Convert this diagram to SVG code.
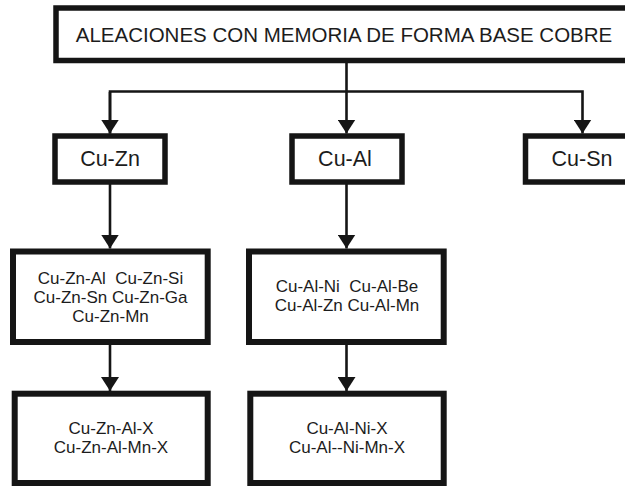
<svg xmlns="http://www.w3.org/2000/svg" width="625" height="486" viewBox="0 0 625 486">
<style>
.box{fill:#fff;stroke:#151515;}
.t{font-family:"Liberation Sans",Arial,sans-serif;fill:#1c1c1c;text-anchor:middle;}
.big{font-size:21.5px;}
.top{font-size:20.5px;}
.sm{font-size:17px;}
.c{fill:none;stroke:#151515;stroke-width:2.6;}
</style>
<defs>
<marker id="ah" viewBox="0 0 14 18" refX="14" refY="9" markerWidth="14" markerHeight="18" markerUnits="userSpaceOnUse" orient="auto">
<path d="M0,0 L14,9 L0,18 Z" fill="#151515"/>
</marker>
</defs>
<rect width="625" height="486" fill="#fff"/>
<g id="connectors">
<path class="c" d="M346.5,62 V133.5" marker-end="url(#ah)"/>
<path class="c" d="M110,133.5 V91.5 H582.5 V133.5" marker-end="url(#ah)"/>
<path class="c" d="M110,92 V133.5" marker-end="url(#ah)"/>
<path class="c" d="M110,183 V248.5" marker-end="url(#ah)"/>
<path class="c" d="M346.5,183 V248.5" marker-end="url(#ah)"/>
<path class="c" d="M110,344 V391" marker-end="url(#ah)"/>
<path class="c" d="M346.5,344 V391" marker-end="url(#ah)"/>
</g>
<g id="root">
<rect class="box" x="56" y="8" width="600" height="52.5" stroke-width="5.5"/>
<text class="t top" x="344" y="41.5">ALEACIONES CON MEMORIA DE FORMA BASE COBRE</text>
</g>
<g id="cuzn">
<rect class="box" x="55" y="136" width="110" height="46" stroke-width="5.5"/>
<text class="t big" x="110" y="166">Cu-Zn</text>
</g>
<g id="cual">
<rect class="box" x="292" y="136" width="110" height="46" stroke-width="5.5"/>
<text class="t big" x="345" y="166">Cu-Al</text>
</g>
<g id="cusn">
<rect class="box" x="525.5" y="136" width="130" height="46" stroke-width="5.5"/>
<text class="t big" x="582" y="166">Cu-Sn</text>
</g>
<g id="cuzn-ternary">
<rect class="box" x="13" y="251.5" width="194.7" height="90.5" stroke-width="6"/>
<text class="t sm" x="110.5" y="284" xml:space="preserve">Cu-Zn-Al  Cu-Zn-Si</text>
<text class="t sm" x="110.5" y="303">Cu-Zn-Sn Cu-Zn-Ga</text>
<text class="t sm" x="110.5" y="322">Cu-Zn-Mn</text>
</g>
<g id="cual-ternary">
<rect class="box" x="249" y="251.5" width="194.7" height="90.5" stroke-width="6"/>
<text class="t sm" x="347" y="291.5" xml:space="preserve">Cu-Al-Ni  Cu-Al-Be</text>
<text class="t sm" x="347" y="310.5">Cu-Al-Zn Cu-Al-Mn</text>
</g>
<g id="cuzn-quaternary">
<rect class="box" x="14.7" y="393.7" width="193" height="89.3" stroke-width="6"/>
<text class="t sm" x="111" y="434">Cu-Zn-Al-X</text>
<text class="t sm" x="111" y="453">Cu-Zn-Al-Mn-X</text>
</g>
<g id="cual-quaternary">
<rect class="box" x="250.3" y="393.7" width="193.4" height="89.3" stroke-width="6"/>
<text class="t sm" x="347" y="434">Cu-Al-Ni-X</text>
<text class="t sm" x="347" y="453">Cu-Al--Ni-Mn-X</text>
</g>
</svg>
